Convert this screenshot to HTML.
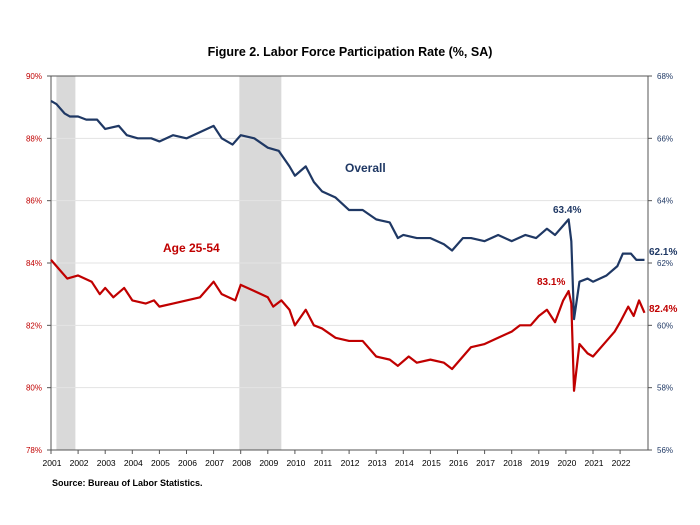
<!DOCTYPE html>
<html><head><meta charset="utf-8"><style>
body{margin:0;background:#fff;}
svg{display:block;font-family:"Liberation Sans",sans-serif;}
</style></head><body>
<svg id="chart" width="700" height="525">
<text x="350" y="56" text-anchor="middle" font-size="12.5" font-weight="bold" fill="#000">Figure 2. Labor Force Participation  Rate (%, SA)</text>
<g id="rec"></g><g id="grid"></g><g id="axes"></g><g id="series"></g>
<text x="345" y="172" font-size="12" font-weight="bold" fill="#1f3864">Overall</text>
<text x="163" y="252" font-size="12" font-weight="bold" fill="#c00000">Age 25-54</text>
<text x="553" y="213" font-size="10" font-weight="bold" fill="#1f3864">63.4%</text>
<text x="537" y="285" font-size="10" font-weight="bold" fill="#c00000">83.1%</text>
<text x="649" y="255" font-size="10" font-weight="bold" fill="#1f3864">62.1%</text>
<text x="649" y="312" font-size="10" font-weight="bold" fill="#c00000">82.4%</text>
<text x="52" y="486" font-size="9" font-weight="bold" fill="#000">Source: Bureau of Labor Statistics.</text>
</svg>
<script>
const years=[2001,2002,2003,2004,2005,2006,2007,2008,2009,2010,2011,2012,2013,2014,2015,2016,2017,2018,2019,2020,2021,2022];
const leftTicks=[78,80,82,84,86,88,90];
const rightTicks=[56,58,60,62,64,66,68];
const recessions=[[2001.2,2001.9],[2007.95,2009.5]];
const overallDates=[2001.0,2001.2,2001.5,2001.7,2002.0,2002.3,2002.7,2003.0,2003.5,2003.8,2004.2,2004.7,2005.0,2005.5,2006.0,2006.5,2007.0,2007.3,2007.7,2008.0,2008.5,2009.0,2009.4,2009.8,2010.0,2010.4,2010.7,2011.0,2011.5,2012.0,2012.5,2013.0,2013.5,2013.8,2014.0,2014.5,2015.0,2015.5,2015.8,2016.2,2016.5,2017.0,2017.5,2018.0,2018.5,2018.9,2019.3,2019.6,2019.9,2020.1,2020.2,2020.3,2020.5,2020.8,2021.0,2021.5,2021.9,2022.1,2022.4,2022.6,2022.9];
const overallValues=[67.2,67.1,66.8,66.7,66.7,66.6,66.6,66.3,66.4,66.1,66.0,66.0,65.9,66.1,66.0,66.2,66.4,66.0,65.8,66.1,66.0,65.7,65.6,65.1,64.8,65.1,64.6,64.3,64.1,63.7,63.7,63.4,63.3,62.8,62.9,62.8,62.8,62.6,62.4,62.8,62.8,62.7,62.9,62.7,62.9,62.8,63.1,62.9,63.2,63.4,62.7,60.2,61.4,61.5,61.4,61.6,61.9,62.3,62.3,62.1,62.1];
const ageDates=[2001.0,2001.3,2001.6,2002.0,2002.5,2002.8,2003.0,2003.3,2003.7,2004.0,2004.5,2004.8,2005.0,2005.5,2006.0,2006.5,2007.0,2007.3,2007.8,2008.0,2008.5,2009.0,2009.2,2009.5,2009.8,2010.0,2010.4,2010.7,2011.0,2011.5,2012.0,2012.5,2013.0,2013.5,2013.8,2014.2,2014.5,2015.0,2015.5,2015.8,2016.2,2016.5,2017.0,2017.5,2018.0,2018.3,2018.7,2019.0,2019.3,2019.6,2019.9,2020.1,2020.2,2020.3,2020.5,2020.8,2021.0,2021.5,2021.8,2022.0,2022.3,2022.5,2022.7,2022.9];
const ageValues=[84.1,83.8,83.5,83.6,83.4,83.0,83.2,82.9,83.2,82.8,82.7,82.8,82.6,82.7,82.8,82.9,83.4,83.0,82.8,83.3,83.1,82.9,82.6,82.8,82.5,82.0,82.5,82.0,81.9,81.6,81.5,81.5,81.0,80.9,80.7,81.0,80.8,80.9,80.8,80.6,81.0,81.3,81.4,81.6,81.8,82.0,82.0,82.3,82.5,82.1,82.8,83.1,82.7,79.9,81.4,81.1,81.0,81.5,81.8,82.1,82.6,82.3,82.8,82.4];

const NS='http://www.w3.org/2000/svg';
const L=51,R=648,T=76,B=450;
const x=d=>L+(d-2001)*27.1;
const yL=v=>B-(v-78)*(B-T)/12;
const yR=v=>B-(v-56)*(B-T)/12;
function mk(tag,attrs,parent){const e=document.createElementNS(NS,tag);for(const k in attrs)e.setAttribute(k,attrs[k]);document.getElementById(parent).appendChild(e);return e;}
recessions.forEach(r=>{const e=mk('rect',{x:x(r[0]),y:T,width:x(r[1])-x(r[0]),height:B-T,fill:'#d9d9d9'},'rec');

});
leftTicks.forEach((v,i)=>{
 if(i>0&&i<leftTicks.length-1){const g=mk('line',{x1:L,x2:R,y1:yL(v),y2:yL(v),stroke:'#e3e3e3','stroke-width':1},'grid');
 
 }
 const t=mk('text',{x:L-9,y:yL(v)+3,'text-anchor':'end','font-size':8,fill:'#c00000'},'axes');t.textContent=v+'%';
 
 
 mk('line',{x1:L-4,x2:L,y1:yL(v),y2:yL(v),stroke:'#555'},'axes');
});
rightTicks.forEach(v=>{const t=mk('text',{x:R+9,y:yR(v)+3,'font-size':8,fill:'#1f3864'},'axes');t.textContent=v+'%';
 
 
 mk('line',{x1:R,x2:R+4,y1:yR(v),y2:yR(v),stroke:'#555'},'axes');});
years.forEach(yv=>{const t=mk('text',{x:x(yv)+1,y:466,'text-anchor':'middle','font-size':8.5,fill:'#000'},'axes');t.textContent=yv;
 
 
 mk('line',{x1:x(yv),x2:x(yv),y1:B,y2:B+4,stroke:'#555'},'axes');});
mk('line',{x1:L,x2:L,y1:T,y2:B,stroke:'#555'},'axes');
mk('line',{x1:R,x2:R,y1:T,y2:B,stroke:'#555'},'axes');
mk('line',{x1:L,x2:R,y1:B,y2:B,stroke:'#555'},'axes');
mk('line',{x1:L,x2:R,y1:T,y2:T,stroke:'#555'},'axes');
const p1=mk('polyline',{points:overallDates.map((d,i)=>x(d)+','+yR(overallValues[i])).join(' '),fill:'none',stroke:'#1f3864','stroke-width':2.2,'stroke-linejoin':'round'},'series');


const p2=mk('polyline',{points:ageDates.map((d,i)=>x(d)+','+yL(ageValues[i])).join(' '),fill:'none',stroke:'#c00000','stroke-width':2.2,'stroke-linejoin':'round'},'series');


</script>
</body></html>
